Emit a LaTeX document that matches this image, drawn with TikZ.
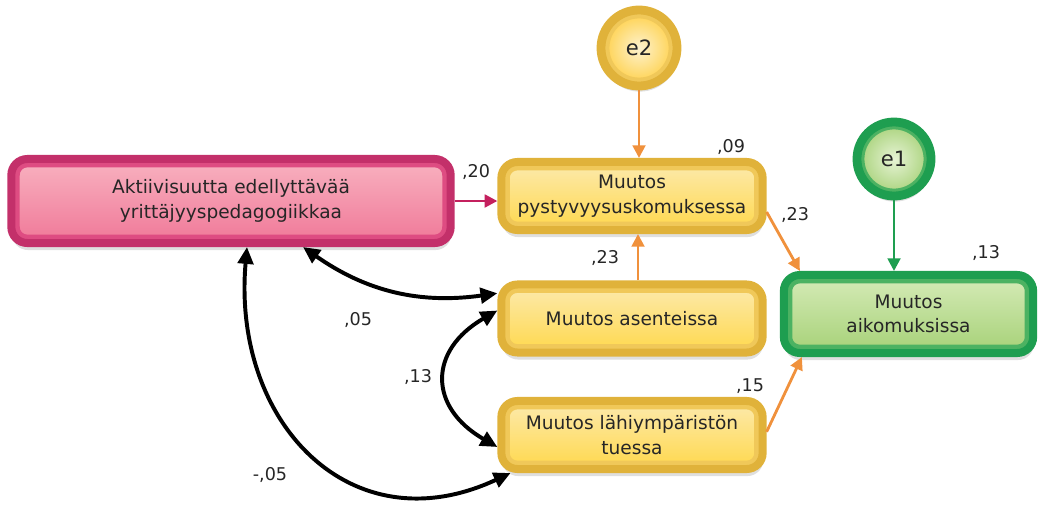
\documentclass[tikz,border=0pt]{standalone}
\usepackage{fontspec}
\setmainfont{DejaVu Sans}
\usetikzlibrary{arrows.meta,shadows,calc}
\definecolor{textgray}{HTML}{262626}
\definecolor{pinkline}{HTML}{C3306A}
\definecolor{pinkband}{HTML}{DE4C82}
\definecolor{pinktop}{HTML}{F8B2C0}
\definecolor{pinkbot}{HTML}{F07898}
\definecolor{yellowline}{HTML}{E0B23A}
\definecolor{yellowband}{HTML}{F0C859}
\definecolor{yellowtop}{HTML}{FCEAAE}
\definecolor{yellowbot}{HTML}{FFD84C}
\definecolor{greenline}{HTML}{1E9E50}
\definecolor{greenband}{HTML}{4CB262}
\definecolor{greentop}{HTML}{D6EBB8}
\definecolor{greenbot}{HTML}{A6D177}
\definecolor{orangeline}{HTML}{F0913C}
\definecolor{crimsonline}{HTML}{C4205E}
\begin{document}
\begin{tikzpicture}[x=0.025cm,y=-0.025cm,
    box/.style={rectangle, rounded corners=0.4cm, line width=0.2cm, align=center,
        text=textgray, font=\fontsize{13.2}{17.5}\selectfont,
        drop shadow={shadow xshift=0.5pt, shadow yshift=-5pt, opacity=0.25},
        path picture={\draw[#1, line width=0.42cm, rounded corners=0.4cm]
            (path picture bounding box.south west) rectangle (path picture bounding box.north east);}},
    pinkbox/.style={box=pinkband, draw=pinkline, top color=pinktop, bottom color=pinkbot,
        minimum width=10.98cm, minimum height=2.1cm},
    yellowbox/.style={box=yellowband, draw=yellowline, top color=yellowtop, bottom color=yellowbot,
        minimum width=6.53cm, minimum height=1.7cm},
    greenbox/.style={box=greenband, draw=greenline, top color=greentop, bottom color=greenbot,
        minimum width=6.23cm, minimum height=1.95cm},
    errcirc/.style={circle, line width=0.22cm, minimum size=1.9cm, inner sep=0pt,
        text=textgray, font=\fontsize{15}{17}\selectfont,
        drop shadow={shadow xshift=0.5pt, shadow yshift=-4pt, opacity=0.25},
        path picture={\draw[#1, line width=0.42cm]
            (path picture bounding box.center) circle (0.95cm);}},
    lbl/.style={font=\fontsize{12.5}{14}\selectfont, text=textgray, inner sep=0pt},
    patharrow/.style={line width=2pt, arrows={-Triangle[length=9pt,width=9pt]}},
    biarrow/.style={line width=2.8pt, draw=black,
        arrows={Triangle[length=12pt,width=11pt]-Triangle[length=12pt,width=11pt]}}
]
\useasboundingbox (0,0) rectangle (1038,507);

% muuttujat
\node[pinkbox] (ped) at (231,201) {Aktiivisuutta edellyttävää\\yrittäjyyspedagogiikkaa};
\node[yellowbox] (pyst) at (632,196) {Muutos\\pystyvyysuskomuksessa};
\node[yellowbox] (asen) at (632,318.5) {Muutos asenteissa};
\node[yellowbox] (tuki) at (632,435) {Muutos lähiympäristön\\tuessa};
\node[greenbox] (aiko) at (908.5,314) {Muutos\\aikomuksissa};
\node[errcirc=yellowband, draw=yellowline, inner color=yellowtop!60!white, outer color=yellowbot!90!orange] (e2) at (639,48) {e2};
\node[errcirc=greenband, draw=greenline, inner color=greentop!60!white, outer color=greenbot, minimum size=1.85cm] (e1) at (894,159) {e1};

% polut
\draw[patharrow, orangeline] (e2.south) -- (e2.south |- pyst.north);
\draw[patharrow, greenline] (e1.south) -- (e1.south |- aiko.north);
\draw[patharrow, crimsonline] (ped.east) -- (ped.east -| pyst.west);
\draw[patharrow, orangeline] ([xshift=0.15cm]asen.north) -- ([xshift=0.15cm]pyst.south);
\draw[patharrow, orangeline] ([yshift=-0.4cm]pyst.east) -- ([xshift=0.5cm]aiko.north west);
\draw[patharrow, orangeline] ([yshift=0.08cm]tuki.east) -- ([xshift=0.55cm]aiko.south west);

% korrelaatiot
\draw[biarrow] ([xshift=1.8cm]ped.south) to[out=-35,in=188] ([yshift=0.63cm]asen.west);
\draw[biarrow] ([yshift=0.2cm]asen.west) to[out=210,in=150,looseness=1.5] ([yshift=-0.3cm]tuki.west);
\draw[biarrow] ([xshift=0.4cm]ped.south) to[out=265,in=205,looseness=1.3] ([xshift=0.33cm]tuki.south west);

% kertoimet
\node[lbl] (l20) at (476,172) {,20};
\node[lbl] (l09) at (731,147) {,09};
\node[lbl] (l23a) at (605,258) {,23};
\node[lbl] (l23b) at (795,215) {,23};
\node[lbl] (l13a) at (986,253) {,13};
\node[lbl] (l15) at (750,386) {,15};
\node[lbl] (l05) at (358,320) {,05};
\node[lbl] (l13b) at (418,377) {,13};
\node[lbl] (l05n) at (270,475) {-,05};
\end{tikzpicture}
\end{document}
